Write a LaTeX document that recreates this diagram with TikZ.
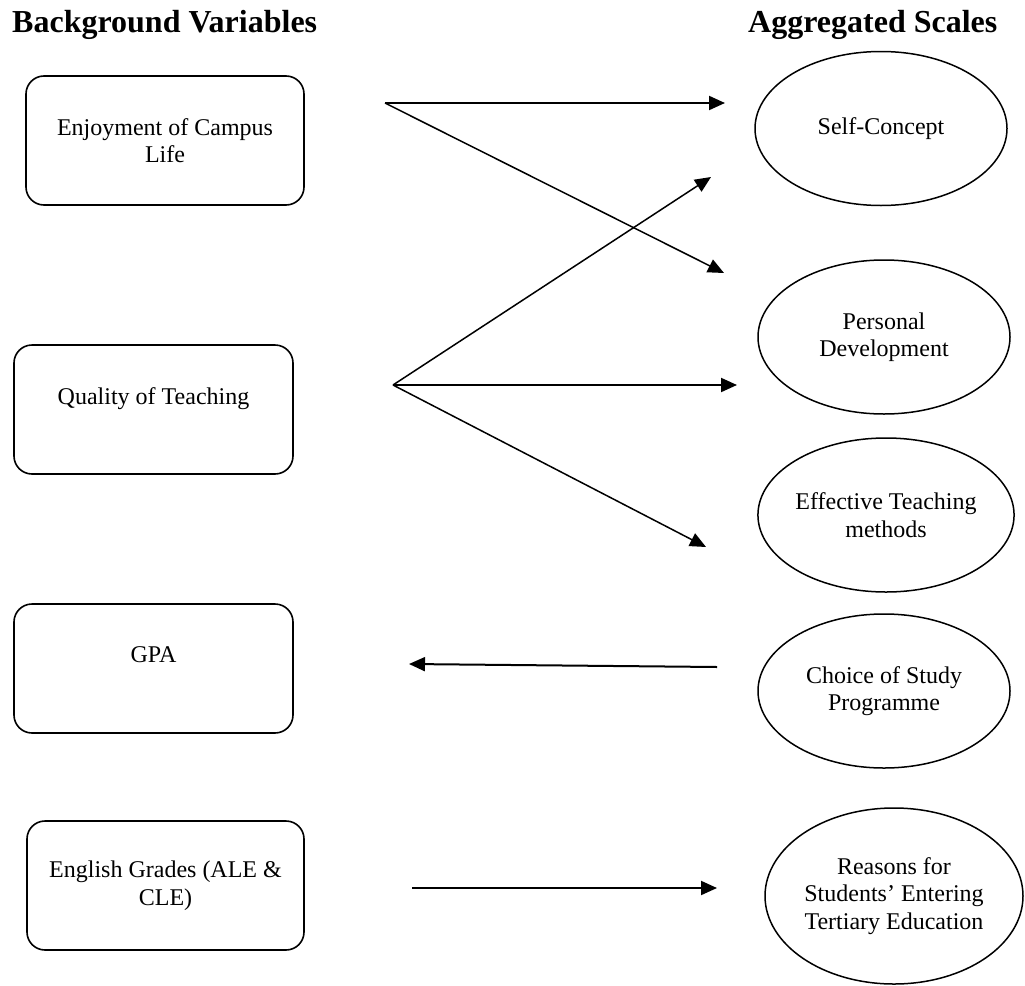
\documentclass[tikz,border=0pt]{standalone}
\usepackage{fontspec}
\setmainfont{Liberation Serif}
\usetikzlibrary{shapes.geometric,arrows.meta}
\begin{document}
\begin{tikzpicture}[x=1pt,y=-1pt,
  every node/.style={font=\fontsize{24}{27.5}\selectfont},
  title/.style={font=\fontsize{32}{38}\selectfont\bfseries,anchor=base west,inner sep=0},
  varbox/.style={draw,line width=1.6pt,rounded corners=18pt,minimum width=278pt,minimum height=129pt,align=center,inner sep=0},
  aggell/.style={draw,line width=1.5pt,ellipse,minimum width=252pt,minimum height=154pt,align=center,inner sep=0},
  link/.style={line width=1.5pt,-{Triangle[length=16pt,width=14pt]}},
  hlink/.style={line width=2pt,-{Triangle[length=16pt,width=14pt]}}]
\useasboundingbox (0,0) rectangle (1025,985);

\node[title] (tl) at (12,32) {Background Variables};
\node[title] (tr) at (748,32) {Aggregated Scales};

\node[varbox] (b1) at (165,140.5) {Enjoyment of Campus\\Life};
\node[varbox,minimum width=279pt] (b2) at (153.5,409.5) {Quality of Teaching\\\mbox{}};
\node[varbox,minimum width=279pt] (b3) at (153.5,668.5) {GPA\\\mbox{}};
\node[varbox,minimum width=277pt] (b4) at (165.5,885.5) {English Grades (ALE \&\\CLE)};

\node[aggell] (e1) at (881,128.5) {Self-Concept};
\node[aggell] (e2) at (884,337) {Personal\\Development};
\node[aggell,minimum width=253pt] (e3) at (886,515) {Effective Teaching\\methods};
\node[aggell] (e4) at (884,691) {Choice of Study\\Programme};
\node[aggell,minimum width=258pt,minimum height=176pt] (e5) at (894,896) {Reasons for\\Students’ Entering\\Tertiary Education};

\coordinate (s1) at (385,103);
\coordinate (s2) at (393,385);
\coordinate (t1) at (725,103);
\coordinate (t2) at (724,273);
\coordinate (t3) at (711,177);
\coordinate (t4) at (737,385);
\coordinate (t5) at (706,547);
\coordinate (g1) at (717,667);
\coordinate (g2) at (409,664);
\coordinate (r1) at (412,888);
\coordinate (r2) at (717,888);

\draw[hlink] (s1) -- (t1);
\draw[link] (s1) -- (t2);
\draw[link] (s2) -- (t3);
\draw[hlink] (s2) -- (t4);
\draw[link] (s2) -- (t5);
\draw[hlink] (g1) -- (g2);
\draw[hlink] (r1) -- (r2);
\end{tikzpicture}
\end{document}
